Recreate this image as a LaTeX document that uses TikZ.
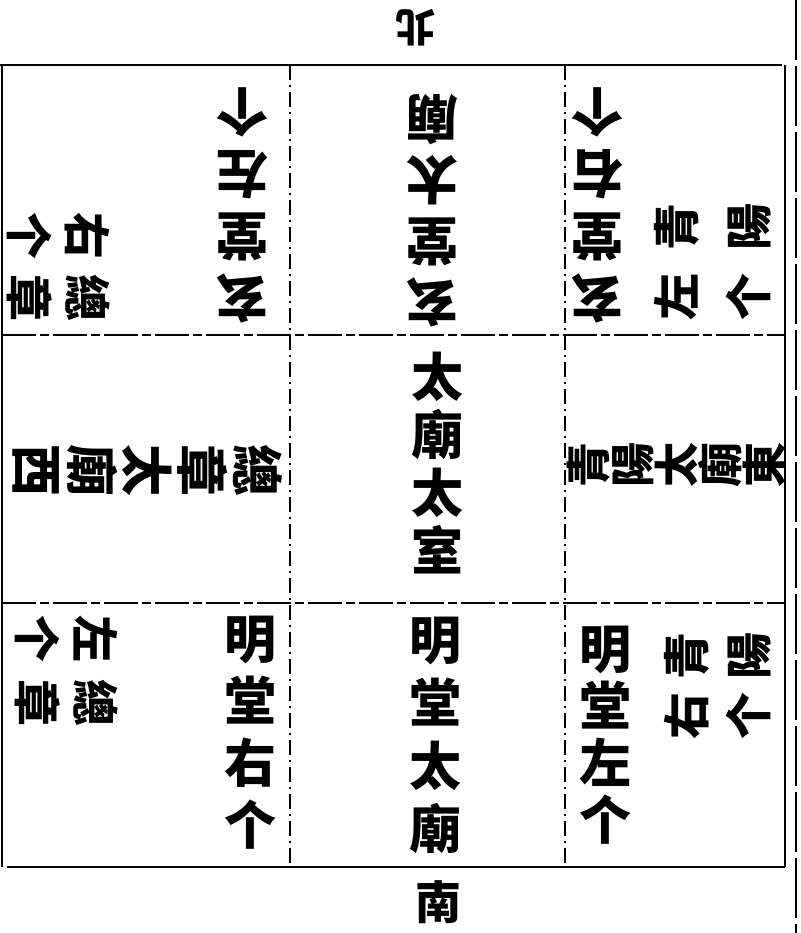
\documentclass[tikz,border=0pt]{standalone}
\usepackage{fontspec}
\newfontfamily\cjk{Noto Sans CJK TC}
\usepackage{tikz}
\usetikzlibrary{positioning,calc}
\tikzset{hanzi/.style={font=\cjk\bfseries\fontsize{52}{#1}\selectfont,align=center,inner sep=0pt}}
\tikzset{smallhanzi/.style={font=\cjk\bfseries\fontsize{47}{#1}\selectfont,align=center,inner sep=0pt}}
\tikzset{outerrule/.style={line width=2.6pt}}
\tikzset{rowrule/.style={line width=2pt,dash pattern=on 34pt off 4pt on 9pt off 4pt}}
\tikzset{colrule/.style={line width=1.2pt,dash pattern=on 15pt off 5pt on 2pt off 5pt}}

\begin{document}
\begin{tikzpicture}[x=1pt,y=-1pt]
\useasboundingbox (0,0) rectangle (800,933);

% frame
\draw[outerrule] (0,65) -- (782,65);
\draw[outerrule] (7,867) -- (785,867);
\draw[outerrule] (2,65) -- (2,867);
\draw[outerrule] (785,65) -- (785,867);
\draw[line width=2pt,dash pattern=on 60pt off 6pt] (796,0) -- (796,933);

% rooms
\draw[rowrule] (2,335) -- (785,335);
\draw[rowrule] (2,603) -- (785,603);
\draw[colrule] (290,65) -- (290,867);
\draw[colrule] (565,65) -- (565,867);

% directions
\node[font=\cjk\bfseries\fontsize{40}{40}\selectfont,inner sep=0pt,rotate=180] (north) at (415,28) {北};
\node[font=\cjk\bfseries\fontsize{46}{46}\selectfont,inner sep=0pt] (south) at (438,902) {南};

% north row
\node[hanzi=62,rotate=180] (xuanleft) at (242,205) {玄\\堂\\左\\个};
\node[hanzi=61,rotate=180] (xuanmid) at (432,211) {玄\\堂\\太\\廟};
\node[hanzi=62,rotate=180] (xuanright) at (597,205) {玄\\堂\\右\\个};
\node[smallhanzi=58,rotate=-90] (zongright) at (59,267) {右\hspace{15pt}總\\个\hspace{15pt}章};
\node[smallhanzi=72,rotate=90] (qingleft) at (713,262) {左\hspace{23pt}青\\个\hspace{23pt}陽};

% middle row
\node[hanzi=55,rotate=-90] (zongmid) at (148,470) {總\\章\\太\\廟\\西};
\node[hanzi=58] (taishi) at (437,463) {太\\廟\\太\\室};
\node[font=\cjk\bfseries\fontsize{45}{44}\selectfont,align=center,inner sep=0pt,rotate=90] (qingmid) at (676,465) {青\\陽\\太\\廟\\東};

% south row
\node[hanzi=62] (mingright) at (250,733) {明\\堂\\右\\个};
\node[hanzi=63] (mingmid) at (435,735) {明\\堂\\太\\廟};
\node[hanzi=57] (mingleft) at (605,735) {明\\堂\\左\\个};
\node[smallhanzi=58,rotate=-90] (zongleft) at (67,671) {左\hspace{18pt}總\\个\hspace{18pt}章};
\node[smallhanzi=62,rotate=90] (qingright) at (718,686) {右\hspace{13pt}青\\个\hspace{13pt}陽};

\end{tikzpicture}
\end{document}
